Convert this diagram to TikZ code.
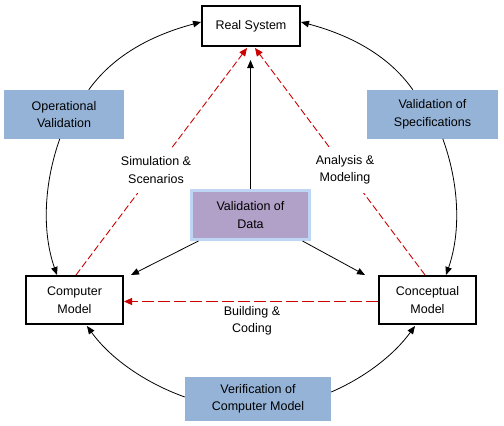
\documentclass[tikz,border=0pt]{standalone}
\usepackage{fontspec}
\setmainfont{Liberation Sans}
\usetikzlibrary{arrows.meta,calc}
\definecolor{boxblue}{RGB}{149,179,215}
\definecolor{boxpurple}{RGB}{177,160,199}
\definecolor{glowblue}{RGB}{190,214,244}
\definecolor{dred}{RGB}{205,0,0}
\begin{document}
\begin{tikzpicture}[x=1pt,y=-1pt,
  font=\fontsize{12.5}{17.5}\selectfont,
  sysbox/.style={draw=black,line width=2pt,fill=white,align=center,inner sep=0pt},
  actbox/.style={fill=boxblue,align=center,inner sep=0pt},
  lbl/.style={fill=white,align=center,inner sep=1pt},
  conn/.style={draw=black,line width=0.8pt,-{Triangle[length=8pt,width=6.5pt]}},
  rconn/.style={draw=dred,line width=0.9pt,dash pattern=on 7pt off 3pt,-{Triangle[length=8pt,width=7pt]}},
]
\useasboundingbox (0,0) rectangle (504,426);

% main system boxes
\node[sysbox,minimum width=98pt,minimum height=40pt] (rs) at (251,26) {Real System};
\node[sysbox,minimum width=97pt,minimum height=48pt] (cm) at (74.5,300) {Computer\\Model};
\node[sysbox,minimum width=97pt,minimum height=48pt] (cpm) at (427.5,300) {Conceptual\\Model};

% activity boxes
\node[actbox,minimum width=120pt,minimum height=48.7pt] (opv) at (64,114.3) {Operational\\Validation};
\node[actbox,minimum width=131pt,minimum height=48.7pt] (vos) at (432.5,114.3) {Validation of\\Specifications};
\node[actbox,minimum width=146pt,minimum height=44pt] (vcm) at (258,399) {Verification of\\Computer Model};

% red dashed connectors
\draw[rconn] ($(cm.north)+(1.5,0)$) -- ($(rs.south)+(-4,1)$);
\draw[rconn] ($(cpm.north)+(-2.5,0)$) -- ($(rs.south)+(4,1)$);
\draw[rconn,dash pattern=on 12pt off 4pt] ($(cpm.west)+(0,1.5)$) -- ($(cm.east)+(0,1.5)$);

% labels on the red connectors
\node[lbl,minimum height=45pt] (sim) at (156,170) {Simulation \&\\Scenarios};
\node[lbl,minimum height=45pt] (ana) at (345,170) {Analysis \&\\Modeling};
\node[lbl] (bld) at (252,321) {Building \&\\Coding};

% validation of data
\node[draw=glowblue,line width=3pt,fill=boxpurple,align=center,inner sep=0pt,
      minimum width=118pt,minimum height=49pt] (vod) at (250.5,215) {Validation of\\Data};

% free ends
\coordinate (dtop) at (250.5,60);
\coordinate (cmin) at ($(cm.north east)+(7,0)$);
\coordinate (cpmin) at ($(cpm.north west)+(-13,0)$);

% straight black connectors
\draw[conn] (vod.north) -- (dtop);
\draw[conn] ($(vod.south west)!0.07!(vod.south east)$) -- (cmin);
\draw[conn] ($(vod.south west)!0.93!(vod.south east)$) -- (cpmin);

% circular black connectors
\draw[conn] ($(opv.north west)+(85,0)$) .. controls (115,53) and (156,34) .. ($(rs.west)+(0,-4)$);
\draw[conn] ($(opv.south west)+(56,0)$) .. controls (44.2,182.6) and (41.6,230.9) .. ($(cm.north west)+(32,0)$);
\draw[conn] ($(vcm.west)+(0,-2)$) .. controls (146.6,383.4) and (111,359.3) .. ($(cm.south west)+(62,1)$);
\draw[conn] ($(vos.north west)+(46,0)$) .. controls (387,53) and (346,34) .. ($(rs.east)+(0,-4)$);
\draw[conn] ($(vos.south west)+(76,0)$) .. controls (458.8,182.6) and (461.4,230.9) .. ($(cpm.north west)+(68,0)$);
\draw[conn] ($(vcm.east)+(0,-7)$) .. controls (364.3,377.7) and (393.5,355.5) .. ($(cpm.south west)+(37,1)$);
\end{tikzpicture}
\end{document}
